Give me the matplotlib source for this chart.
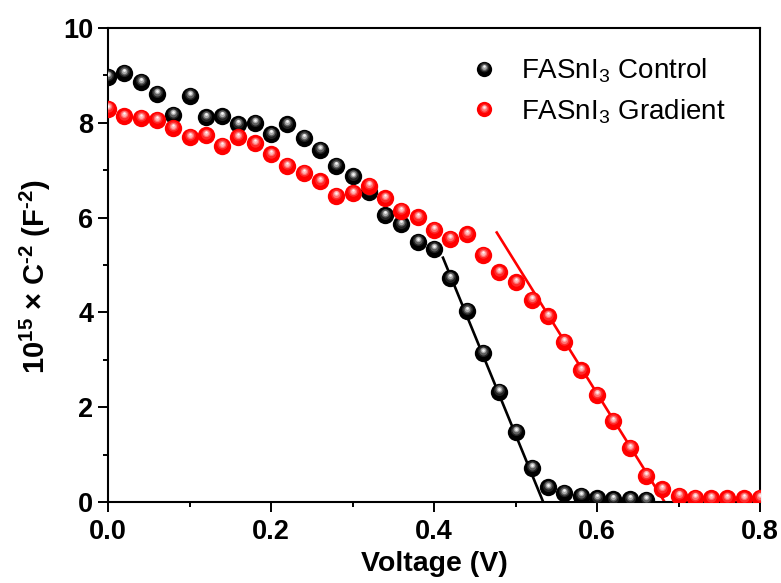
import numpy as np
import matplotlib
matplotlib.use("Agg")
import matplotlib.pyplot as plt
from matplotlib.lines import Line2D
from matplotlib.transforms import ScaledTranslation
from matplotlib.legend_handler import HandlerBase

plt.rcParams["font.family"] = ["Liberation Sans", "DejaVu Sans"]
plt.rcParams["mathtext.fontset"] = "custom"
plt.rcParams["mathtext.rm"] = "Liberation Sans"
plt.rcParams["mathtext.it"] = "Liberation Sans:italic"
plt.rcParams["mathtext.bf"] = "Liberation Sans:bold"

# Mott-Schottky data: bias voltage (V) and 1e15 x C^-2 (F^-2)
control_v = [0.00, 0.02, 0.04, 0.06, 0.08, 0.10, 0.12, 0.14, 0.16, 0.18,
             0.20, 0.22, 0.24, 0.26, 0.28, 0.30, 0.32, 0.34, 0.36, 0.38,
             0.40, 0.42, 0.44, 0.46, 0.48, 0.50, 0.52, 0.54, 0.56, 0.58,
             0.60, 0.62, 0.64, 0.66]
control_c = [8.97, 9.05, 8.86, 8.61, 8.17, 8.57, 8.12, 8.14, 7.97, 8.00,
             7.76, 7.97, 7.68, 7.43, 7.09, 6.87, 6.55, 6.05, 5.86, 5.49,
             5.34, 4.72, 4.03, 3.15, 2.33, 1.48, 0.72, 0.31, 0.19, 0.13,
             0.08, 0.06, 0.06, 0.05]

gradient_v = [0.00, 0.02, 0.04, 0.06, 0.08, 0.10, 0.12, 0.14, 0.16, 0.18,
              0.20, 0.22, 0.24, 0.26, 0.28, 0.30, 0.32, 0.34, 0.36, 0.38,
              0.40, 0.42, 0.44, 0.46, 0.48, 0.50, 0.52, 0.54, 0.56, 0.58,
              0.60, 0.62, 0.64, 0.66, 0.68, 0.70, 0.72, 0.74, 0.76, 0.78,
              0.80]
gradient_c = [8.30, 8.14, 8.10, 8.06, 7.89, 7.70, 7.74, 7.51, 7.70, 7.57,
              7.34, 7.09, 6.94, 6.77, 6.46, 6.52, 6.67, 6.41, 6.14, 6.01,
              5.74, 5.55, 5.65, 5.21, 4.85, 4.64, 4.27, 3.92, 3.38, 2.78,
              2.26, 1.71, 1.14, 0.55, 0.27, 0.13, 0.09, 0.08, 0.08, 0.08,
              0.09]

# Linear fits of the depletion region: x-intercept (flat-band voltage) and slope
control_vfb, control_slope, control_fit_start = 0.534, -41.9, 0.411
gradient_vfb, gradient_slope, gradient_fit_start = 0.683, -27.6, 0.477

labels = ["FASnI$_3$ Control", "FASnI$_3$ Gradient"]

# Shaded-sphere marker layers: (relative size, colour, upward shift in radii)
black_layers = [(1.00, "#000000", 0.00), (0.64, "#222222", 0.18),
                (0.47, "#5e5e5e", 0.24), (0.31, "#aaaaaa", 0.28),
                (0.16, "#f4f4f4", 0.32)]
red_layers = [(1.00, "#ff0000", 0.00), (0.60, "#ff2a2a", 0.18),
              (0.42, "#ff7070", 0.24), (0.27, "#ffb8b8", 0.28),
              (0.13, "#fff2f2", 0.32)]

MS = 12.5
fig = plt.figure(figsize=(7.81, 5.83), dpi=100)
ax = fig.add_axes([108 / 781, 81 / 583, 652 / 781, 474 / 583])


def draw_spheres(ax, x, y, layers, ms, z0):
    for i, (s, col, dy) in enumerate(layers):
        tr = ax.transData + ScaledTranslation(0, dy * ms / 2 / 72, fig.dpi_scale_trans)
        ax.plot(x, y, ls="none", marker="o", ms=ms * s, mfc=col, mec="none",
                transform=tr, zorder=z0 + i * 0.01)


def fit_line(vfb, slope, v0):
    v = np.array([v0, vfb])
    return v, slope * (v - vfb)


fx, fy = fit_line(control_vfb, control_slope, control_fit_start)
ax.plot(fx, fy, color="black", lw=1.9, zorder=2)
fx, fy = fit_line(gradient_vfb, gradient_slope, gradient_fit_start)
ax.plot(fx, fy, color="#ff0000", lw=1.9, zorder=2)

draw_spheres(ax, control_v, control_c, black_layers, MS, 3)
draw_spheres(ax, gradient_v, gradient_c, red_layers, MS, 4)

ax.set_xlim(0, 0.8)
ax.set_ylim(0, 10)
ax.set_xticks([0.0, 0.2, 0.4, 0.6, 0.8])
ax.set_xticks([0.1, 0.3, 0.5, 0.7], minor=True)
ax.set_yticks([0, 2, 4, 6, 8, 10])
ax.set_yticks([1, 3, 5, 7, 9], minor=True)
ax.set_xticklabels(["0.0", "0.2", "0.4", "0.6", "0.8"])
for lab in ax.get_xticklabels() + ax.get_yticklabels():
    lab.set_fontweight("bold")
    lab.set_fontsize(19.5)
ax.tick_params(which="major", direction="out", length=7, width=1.4)
ax.tick_params(which="minor", direction="out", length=3.5, width=1.4)
ax.tick_params(axis="x", pad=5)
ax.tick_params(axis="y", pad=3.5)
for sp in ax.spines.values():
    sp.set_linewidth(1.5)

ax.set_xlabel("Voltage (V)", fontsize=20.5, fontweight="bold")
ax.xaxis.set_label_coords(0.5, -0.103)
ax.set_ylabel("10$^{\\mathbf{15}}$ × C$^{\\mathbf{\u20102}}$ (F$^{\\mathbf{\u20102}}$)",
              fontsize=21, fontweight="bold")
ax.yaxis.set_label_coords(-0.084, 0.475)


class SphereHandler(HandlerBase):
    def __init__(self, layers, ms):
        super().__init__()
        self.layers = layers
        self.ms = ms

    def create_artists(self, legend, orig_handle, xdescent, ydescent,
                       width, height, fontsize, trans):
        cx = 0.5 * width - xdescent
        cy = 0.5 * height - ydescent
        arts = []
        for s, col, dy in self.layers:
            ln = Line2D([cx], [cy + dy * self.ms / 2], ls="none", marker="o",
                        ms=self.ms * s, mfc=col, mec="none")
            ln.set_transform(trans)
            arts.append(ln)
        return arts


h_ctrl = Line2D([], [], ls="none", marker="o", color="black")
h_grad = Line2D([], [], ls="none", marker="o", color="red")
ax.legend([h_ctrl, h_grad], labels, loc="upper left",
          bbox_to_anchor=(0.556, 0.940), frameon=False, fontsize=20,
          borderpad=0, borderaxespad=0, handlelength=0.95, handletextpad=0.86,
          labelspacing=0.44,
          handler_map={h_ctrl: SphereHandler(black_layers, 11),
                       h_grad: SphereHandler(red_layers, 11)})

fig.savefig("out.png", dpi=100)
